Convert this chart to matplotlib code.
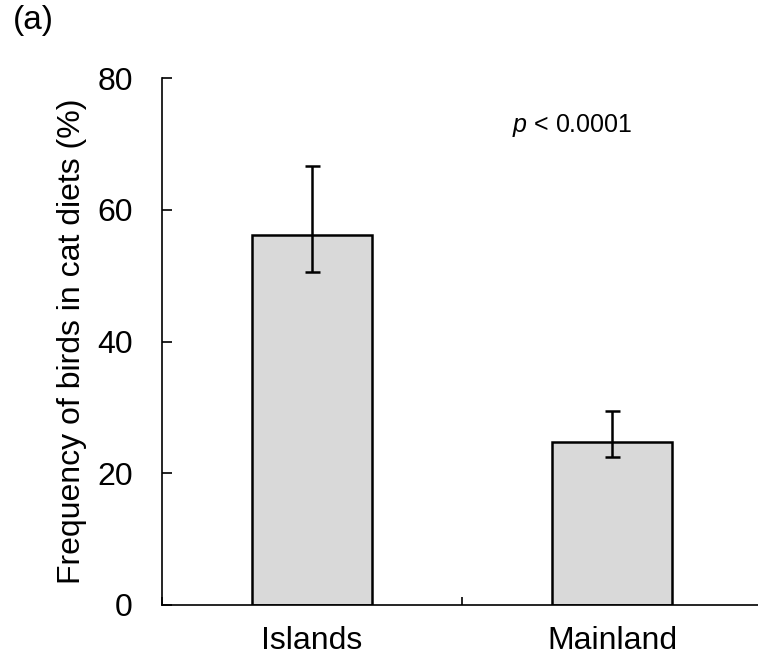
import numpy as np
import matplotlib.pyplot as plt

plt.rcParams['font.family'] = ['Liberation Sans', 'DejaVu Sans']
plt.rcParams['mathtext.fontset'] = 'custom'
plt.rcParams['mathtext.it'] = 'Liberation Sans:italic'
plt.rcParams['mathtext.rm'] = 'Liberation Sans'

# data
categories = ['Islands', 'Mainland']
means = [56.1, 24.7]
upper = [66.7, 29.5]   # top of error bar
lower = [50.6, 22.4]   # bottom of error bar


def draw_bar_plot():
    x = np.arange(len(categories))
    m = np.array(means)
    yerr = [m - np.array(lower), np.array(upper) - m]

    fig = plt.figure(figsize=(7.58, 6.57), dpi=100)
    ax = fig.add_axes([162 / 758, 52 / 657, 596 / 758, 527 / 657])

    ax.bar(x, m, width=0.4, color='#d9d9d9', edgecolor='black',
           linewidth=1.8, zorder=2)
    ax.errorbar(x, m, yerr=yerr, fmt='none', ecolor='black',
                elinewidth=1.8, capsize=5.4, capthick=1.8, zorder=3)

    ax.set_xlim(-0.5, 1.5 - 4 / 300)
    ax.set_ylim(0, 80)
    ax.set_yticks([0, 20, 40, 60, 80])

    ax.set_xticks(x)
    ax.set_xticklabels(categories)
    ax.set_xticks([-0.5, 0.5], minor=True)
    ax.tick_params(axis='x', which='major', length=0, pad=15, labelsize=23)
    ax.tick_params(axis='x', which='minor', direction='in', length=6,
                   width=1.2)
    ax.tick_params(axis='y', direction='in', length=7.2, width=1.2,
                   pad=21, labelsize=23)

    for s in ['top', 'right']:
        ax.spines[s].set_visible(False)
    for s in ['left', 'bottom']:
        ax.spines[s].set_linewidth(1.2)

    ax.set_ylabel('Frequency of birds in cat diets (%)', fontsize=23,
                  labelpad=7)

    # p-value annotation and panel letter
    fig.text(512 / 758, 1 - 132 / 657, r'$p$ < 0.0001', fontsize=18,
             ha='left', va='baseline')
    fig.text(13 / 758, 1 - 29 / 657, '(a)', fontsize=24, ha='left',
             va='baseline')

    return fig


if __name__ == '__main__':
    fig = draw_bar_plot()
    fig.savefig('out.png', dpi=100)
